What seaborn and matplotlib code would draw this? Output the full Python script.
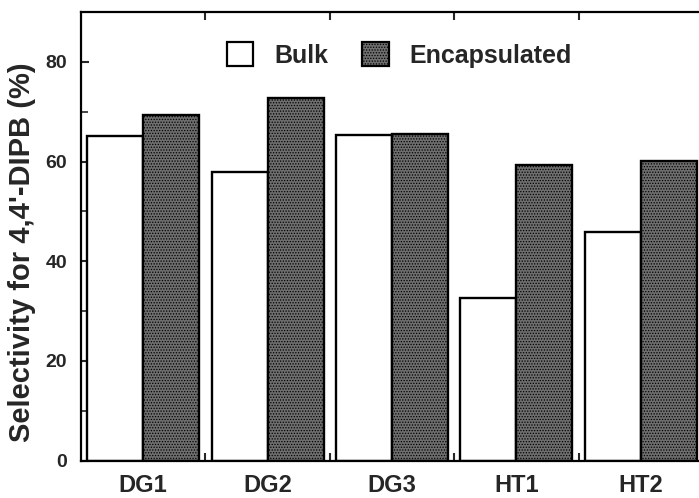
import matplotlib
matplotlib.use("Agg")
import matplotlib.pyplot as plt
from matplotlib.patches import Patch
from matplotlib.ticker import FixedLocator
import seaborn as sns
import pandas as pd

# ---- data ----
catalysts = ["DG1", "DG2", "DG3", "HT1", "HT2"]
bulk = [65.1, 57.9, 65.3, 32.7, 45.8]
encapsulated = [69.4, 72.8, 65.5, 59.2, 60.1]
series_names = ["Bulk", "Encapsulated"]
y_ticks = [0, 20, 40, 60, 80]
y_label = "Selectivity for 4,4'-DIPB (%)"

df = pd.DataFrame({
    "catalyst": catalysts * 2,
    "value": bulk + encapsulated,
    "series": [series_names[0]] * len(catalysts) + [series_names[1]] * len(catalysts),
})

sns.set_style("ticks")
plt.rcParams["font.family"] = ["Liberation Sans", "DejaVu Sans"]
plt.rcParams["font.weight"] = "bold"
plt.rcParams["hatch.linewidth"] = 0.6

W, H = 699, 498
fig = plt.figure(figsize=(W / 100, H / 100), dpi=100)
ax_left, ax_right, ax_top, ax_bot = 81, 703, 12, 460.5
ax = fig.add_axes([ax_left / W, 1 - ax_bot / H, (ax_right - ax_left) / W, (ax_bot - ax_top) / H])

fill_enc = "#6e6e6e"
palette = {"Bulk": "white", "Encapsulated": fill_enc}
sns.barplot(data=df, x="catalyst", y="value", hue="series", order=catalysts,
            hue_order=series_names, palette=palette, width=0.9, dodge=True,
            edgecolor="black", linewidth=1.7, legend=False, saturation=1, ax=ax)

n = len(catalysts)
for i, p in enumerate(ax.patches):
    if i >= n:
        p.set_hatch("......")

ax.set_xlim(-0.5, 4.5)
ax.set_ylim(0, 90)
ax.set_yticks(y_ticks)
ax.yaxis.set_minor_locator(FixedLocator([10, 30, 50, 70]))
ax.set_xticks(range(n))
ax.set_xticklabels(catalysts)
ax.xaxis.set_minor_locator(FixedLocator([0.5, 1.5, 2.5, 3.5]))

ax.tick_params(axis="x", which="major", length=0, labelsize=17, pad=10)
ax.tick_params(axis="x", which="minor", direction="in", length=6, width=1.5, top=True, bottom=True)
ax.tick_params(axis="y", which="major", direction="in", length=6, width=1.5, labelsize=14, pad=10)
ax.tick_params(axis="y", which="minor", direction="in", length=5, width=1.2)
for lab in ax.get_xticklabels() + ax.get_yticklabels():
    lab.set_fontweight("bold")

for s in ax.spines.values():
    s.set_visible(True)
    s.set_linewidth(1.6)
    s.set_color("black")

axw = ax_right - ax_left
axh = ax_bot - ax_top
ax.set_xlabel("")
ax.set_ylabel(y_label, fontsize=21, fontweight="bold")
ax.yaxis.set_label_coords((36 - ax_left) / axw, 1 - (252.5 - ax_top) / axh)

handles = [
    Patch(facecolor="white", edgecolor="black", linewidth=1.6, label=series_names[0]),
    Patch(facecolor=fill_enc, edgecolor="black", linewidth=1.6, hatch="......", label=series_names[1]),
]
leg = ax.legend(handles=handles, ncol=2, frameon=False, loc="center left",
                bbox_to_anchor=((227 - ax_left) / axw, 1 - (55 - ax_top) / axh),
                borderpad=0, borderaxespad=0, handlelength=1.05, handleheight=1.05,
                handletextpad=0.85, columnspacing=1.35,
                prop={"size": 18, "weight": "bold"})

fig.savefig("out.png", dpi=100)
